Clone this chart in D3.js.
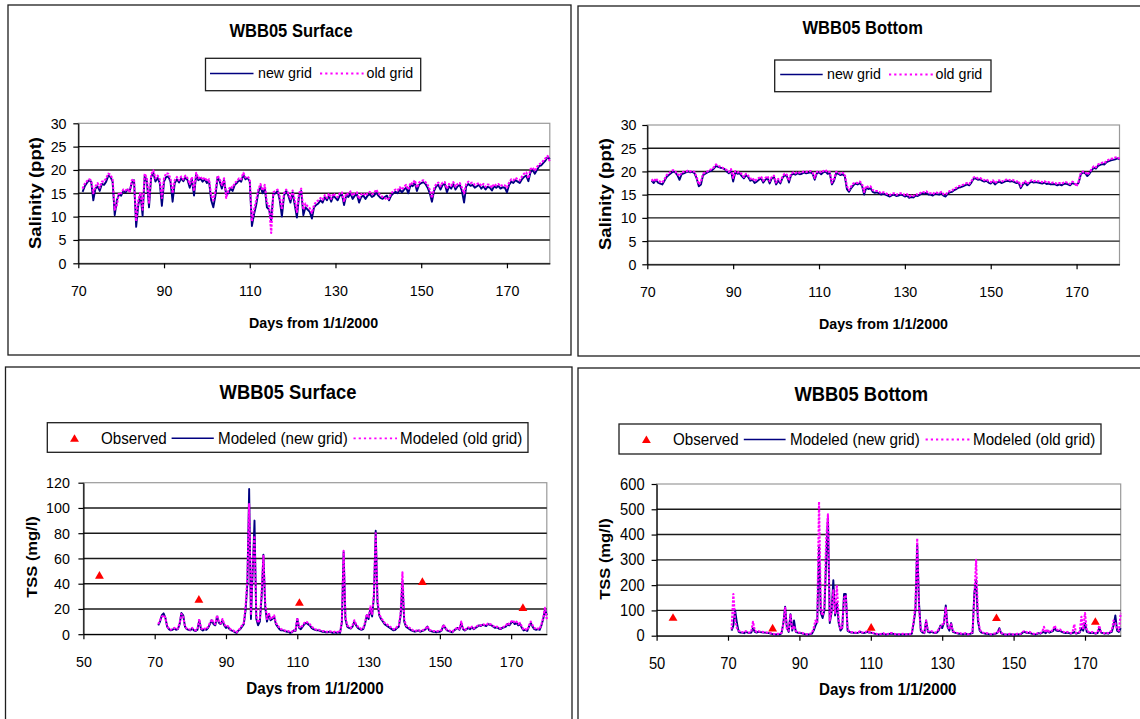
<!DOCTYPE html>
<html>
<head>
<meta charset="utf-8">
<script src="https://cdn.jsdelivr.net/npm/d3@7"></script>
<style>
  html, body { margin: 0; padding: 0; background: #fff; }
  svg { display: block; font-family: "Liberation Sans", Arial, sans-serif; }
</style>
</head>
<body>
<script>
// ---------- data ----------
// Model output is sampled every half day from day 71 to day 180.
const seriesStart = 71;
const seriesStep = 0.5;

// Salinity (ppt), surface layer
const salSurfNew = [
  15.3,16.5,17.2,17.8,17.5,13.5,16.0,16.5,15.5,17.0,
  16.8,17.5,18.8,18.5,17.5,10.3,13.5,14.8,14.5,15.5,
  15.2,15.8,15.5,17.3,17.8,7.8,12.5,14.8,10.2,18.8,
  17.5,12.0,18.5,19.4,17.5,18.3,17.2,12.3,17.5,18.5,
  18.6,17.5,13.2,17.2,18.0,17.3,18.2,17.6,18.4,17.8,
  16.2,18.0,14.5,19.0,17.8,18.2,17.5,18.0,17.2,17.6,
  13.5,12.0,14.5,18.5,17.5,16.0,17.8,14.8,15.0,16.0,
  15.5,16.8,17.2,17.8,17.5,19.0,18.0,18.3,17.5,8.0,
  10.5,12.5,15.2,16.5,15.0,16.2,12.0,11.5,9.2,14.8,
  15.0,15.5,13.5,10.0,14.5,15.5,14.5,13.0,15.2,12.5,
  9.8,14.5,15.5,10.3,12.0,11.5,11.0,9.6,12.0,12.5,
  12.8,13.5,13.0,14.2,13.5,14.5,13.2,14.5,14.0,13.5,
  14.5,14.8,12.5,14.5,14.2,15.0,13.8,14.5,14.8,13.0,
  14.2,14.5,13.8,14.5,14.8,14.2,14.5,15.2,14.5,14.0,
  13.8,14.2,14.5,13.5,14.5,15.0,15.3,15.0,15.8,15.2,
  15.8,16.2,15.0,16.8,16.5,17.3,15.5,16.8,17.2,17.4,
  17.0,16.2,15.0,13.2,15.5,16.5,16.8,15.8,16.8,17.0,
  15.2,16.5,16.0,17.0,15.8,16.5,16.8,15.5,13.0,16.5,
  17.0,16.6,16.8,16.2,16.5,16.8,16.0,16.5,15.8,16.4,
  16.2,15.6,16.5,16.2,16.6,16.0,16.3,16.2,15.2,16.8,
  17.5,17.2,17.8,17.5,17.2,18.0,18.5,18.8,17.6,19.5,
  20.0,19.2,20.0,20.8,21.0,21.5,22.0,22.8,22.3
];
const salSurfOld = [
  16.0,17.0,17.6,18.0,17.8,15.0,16.5,17.2,16.2,17.5,
  17.5,18.2,19.2,19.0,18.0,11.5,12.5,15.2,15.0,15.8,
  15.6,16.0,15.2,17.8,18.0,9.0,13.5,15.2,11.5,19.2,
  18.2,13.0,19.0,19.9,18.2,18.8,18.0,14.0,18.2,19.3,
  19.2,18.2,15.0,17.8,18.5,17.8,18.6,18.0,18.8,18.2,
  17.0,18.5,15.5,19.4,18.2,18.6,17.9,18.4,17.6,18.0,
  14.5,13.5,15.5,18.8,18.0,16.8,18.2,14.0,15.6,16.5,
  16.2,17.2,17.6,18.2,18.0,19.4,18.4,18.6,18.0,9.0,
  11.5,13.5,15.8,17.0,15.6,16.8,13.0,12.5,6.5,15.2,
  15.5,15.8,14.2,11.5,15.0,15.8,15.0,13.8,15.6,13.5,
  11.0,15.0,16.0,11.5,12.8,12.2,11.8,10.8,12.5,13.2,
  13.5,14.0,13.6,14.6,14.0,15.0,13.8,15.0,14.5,14.2,
  15.0,15.2,13.2,15.0,14.8,15.4,14.5,15.0,15.2,13.8,
  14.8,15.0,14.5,15.0,15.3,14.8,15.0,15.8,15.0,14.6,
  14.2,14.0,13.6,14.0,15.0,15.5,15.8,15.6,16.3,15.8,
  16.4,16.8,15.8,17.3,17.0,17.8,16.2,17.3,17.6,17.8,
  17.4,16.8,15.8,14.0,16.0,17.0,17.3,16.5,17.3,17.4,
  16.0,17.0,16.6,17.4,16.4,17.0,17.2,16.2,15.0,17.0,
  17.5,17.2,17.3,16.8,17.0,17.2,16.6,17.0,16.4,16.9,
  16.8,16.2,17.0,16.7,17.0,16.5,16.8,16.7,16.2,17.3,
  18.0,17.8,18.3,18.0,17.8,18.6,19.2,19.5,18.2,20.2,
  20.5,19.8,20.6,21.2,21.5,22.0,22.5,23.0,21.8
];

// Salinity (ppt), bottom layer
const salBotNew = [
  18.0,17.5,18.2,17.6,17.4,17.2,18.0,18.8,19.2,19.6,
  20.0,19.8,19.2,18.2,19.4,19.6,19.8,20.0,19.8,19.9,
  19.6,18.5,16.8,17.2,19.2,19.5,19.8,20.0,20.2,20.6,
  21.2,21.0,20.8,20.7,20.5,20.0,19.6,20.2,17.8,19.8,
  19.5,19.6,19.0,18.5,19.2,18.8,18.0,18.2,17.5,17.8,
  18.2,18.5,17.6,18.2,18.6,17.4,18.5,18.8,17.2,18.0,
  17.4,18.6,19.2,19.0,17.6,19.2,19.5,19.3,19.6,19.4,
  19.5,19.8,19.6,19.7,19.8,19.5,18.2,19.6,19.8,19.4,
  19.8,20.0,19.5,19.6,17.2,18.0,19.6,19.5,19.2,19.4,
  19.0,16.2,15.6,16.4,17.0,17.4,17.2,17.5,17.0,15.0,
  16.5,16.2,16.4,15.6,15.4,15.5,15.3,15.0,15.2,15.0,
  14.8,14.6,14.9,15.0,14.7,14.8,15.0,14.9,14.6,14.8,
  14.3,14.5,14.4,14.8,14.7,15.0,15.3,15.2,15.4,15.0,
  15.0,14.8,15.2,15.1,15.0,15.3,14.8,14.6,15.2,15.5,
  15.6,16.0,16.2,16.5,16.6,16.8,17.0,17.2,17.0,17.6,
  18.4,18.5,18.2,18.3,18.0,17.8,18.0,17.6,17.4,17.8,
  17.2,17.6,17.8,17.5,17.7,17.9,18.0,17.8,17.9,17.7,
  17.5,17.6,16.4,17.2,17.6,17.0,17.5,17.8,17.6,17.7,
  17.6,17.5,17.4,17.6,17.3,17.4,17.2,17.3,17.2,17.0,
  17.2,17.0,17.3,17.4,17.2,17.0,17.5,17.3,17.1,17.6,
  19.4,19.8,19.6,19.0,19.5,20.2,20.8,20.6,21.2,21.4,
  21.6,21.5,22.0,22.2,22.4,22.5,22.6,22.8,22.6
];
const salBotOld = [
  18.3,17.8,18.5,17.9,17.8,17.6,18.3,19.2,19.6,20.0,
  20.3,20.0,19.5,19.0,19.8,19.9,20.0,20.2,20.0,20.1,
  19.9,18.8,17.2,17.8,19.5,19.8,20.0,20.3,20.5,20.9,
  21.5,21.2,21.0,20.8,20.6,20.3,19.9,20.5,18.6,20.1,
  19.8,19.9,19.4,18.8,19.5,19.1,18.4,18.6,17.9,18.3,
  18.6,18.9,18.0,18.6,19.0,17.9,18.8,19.1,17.6,18.4,
  17.8,18.9,19.5,19.3,18.0,19.5,19.8,19.6,19.9,19.7,
  19.8,20.0,19.9,20.0,20.1,19.8,18.6,19.9,20.1,19.7,
  20.1,20.3,19.8,19.9,17.6,18.4,19.9,19.8,19.5,19.7,
  19.4,16.8,16.0,16.8,17.4,17.6,17.5,17.8,17.4,15.6,
  16.9,16.6,16.8,16.0,15.8,15.8,15.6,15.3,15.5,15.3,
  15.1,14.9,15.2,15.3,15.0,15.1,15.3,15.2,14.9,15.1,
  14.6,14.8,14.7,15.1,15.0,15.3,15.6,15.5,15.7,15.3,
  15.3,15.1,15.5,15.4,15.3,15.6,15.1,15.0,15.5,15.8,
  15.9,16.3,16.5,16.8,16.9,17.1,17.3,17.5,17.3,17.9,
  18.7,18.8,18.5,18.6,18.3,18.1,18.3,17.9,17.7,18.1,
  17.5,17.9,18.1,17.8,18.0,18.2,18.3,18.1,18.2,18.0,
  17.8,17.9,16.8,17.5,17.9,17.3,17.8,18.1,17.9,18.0,
  17.9,17.8,17.7,17.9,17.6,17.7,17.5,17.6,17.5,17.3,
  17.5,17.3,17.6,17.7,17.5,17.3,17.8,17.6,16.8,17.9,
  19.7,20.0,19.9,19.3,19.8,20.5,21.1,20.9,21.5,21.7,
  21.9,21.8,22.3,22.5,22.7,22.8,23.0,23.1,22.7
];

// TSS (mg/l), surface layer
const tssSurfNew = [
  7,10,15,16.5,13,6,4,3,3.5,4.5,
  3.5,4,8,16.8,15,6,4,3.5,3,4.5,
  3,2.5,3.5,11,4,3,4,3.5,5,8,
  11,8,7,14,9,8,11,7,5,6,
  4,3,2.5,1.5,1,3,4,6,8,19,
  40,115,12,50,90,12,7,10,30,63,
  22,10,16,11,12,14,8,6,4,3,
  3,2.5,2,2,1,1.5,3,2.5,12,5,
  4,6,8,9,8,7,5,4,3.5,3,
  3,2.5,2,2,1.5,1.5,2,1.5,1,1.5,
  1,1.5,1,9,65,12,6,5,4.5,6,
  10,7,5,4,3.5,4,8,15,12,20,
  14,30,82,25,15,12,10,8,7,6,
  5,4,3,3.5,5,6,15,42,10,6,
  5,4,3,2.5,2,2.5,3,2,2.5,3,
  4,6,3,2.5,2,2,1.5,2,2,3,
  7,5,3,2.5,2,1.5,3,4,5,3.5,
  9,4,3,4,5,4,5.5,4,5,6,
  7,6.5,7.5,7,6.5,8,7.5,7,6,5,
  5.5,4.5,4,5,5.5,6,8,7,9,10,
  8,9,7,8,5,3,3.5,2.5,6,9,
  6,4,3.5,4,3.5,7,12,20,15
];
const tssSurfOld = [
  8,11,14,15,13,6,4.5,3.5,4,5,
  4,4.5,9,16,14,6,4.5,4,3.5,5,
  3.5,3,4,12,5,3.5,4.5,4,6,9,
  12,9,8,15,10,8.5,12,8,6,6.5,
  4.5,3.5,3,2,1.5,3.5,4.5,7,9,22,
  45,103,15,55,78,15,9,12,33,62,
  25,12,17,12,13,15,9,7,5,4,
  3.5,3,2.5,2.5,1.5,2,3.5,3,13,6,
  5,7,9,10,9,8,6,5,4,3.5,
  3.5,3,2.5,2.5,2,2,2.5,2,1.5,2,
  1.5,2,1.5,10,66,14,7,6,5,7,
  11,8,6,5,4,5,9,16,13,22,
  16,32,80,28,16,13,11,9,8,7,
  6,5,4,4,6,7,17,49,12,7,
  6,5,4,3,2.5,3,3.5,2.5,3,3.5,
  4.5,6.5,3.5,3,2.5,2.5,2,2.5,2.5,3.5,
  7.5,5.5,3.5,3,2.5,2,3.5,4.5,5.5,4,
  10,4.5,3.5,4.5,5.5,4.5,6,4.5,5.5,6.5,
  7.5,7,8,7.5,7,8.5,8,7.5,6.5,5.5,
  6,5,4.5,5.5,6,6.5,9,8,10,11,
  9,10,8,9,6,3.5,4,3,7,10,
  7,5,4,4.5,4,8,13,21,12
];

// TSS (mg/l), bottom layer
const tssBotNew = [
  20,40,100,50,15,12,12,10,15,12,
  10,12,30,15,12,15,14,13,12,12,
  10,10,8,6,5,5,6,5,10,50,
  115,30,15,85,20,60,15,12,10,10,
  8,6,5,5,6,8,20,40,55,350,
  90,70,100,300,470,50,90,220,80,130,
  50,20,30,165,165,20,15,12,12,10,
  10,12,15,12,10,12,15,12,12,10,
  8,6,5,5,6,8,5,5,6,8,
  8,6,5,5,5,5,6,5,5,6,
  5,8,50,100,360,130,20,12,10,60,
  15,12,15,12,10,12,20,40,30,50,
  120,35,20,50,15,12,10,8,8,6,
  6,8,5,5,8,10,170,220,60,20,
  12,10,8,8,6,5,5,6,8,12,
  30,10,6,5,4,5,6,5,4,5,
  6,5,6,12,15,12,10,12,8,6,
  5,6,10,8,12,15,10,20,12,15,
  18,30,20,18,20,15,12,10,12,10,
  8,10,15,8,10,12,30,20,50,15,
  12,10,12,10,8,10,30,12,10,8,
  10,8,12,15,40,80,20,15,30
];
const tssBotOld = [
  25,165,60,30,20,15,14,12,18,14,
  12,15,55,20,15,18,16,15,14,14,
  12,12,10,8,6,6,8,6,12,45,
  110,25,20,85,25,40,18,14,12,12,
  10,8,6,6,8,10,30,60,50,530,
  100,80,120,380,480,60,100,180,90,200,
  60,25,35,150,160,25,18,14,14,12,
  12,14,18,14,12,15,18,14,14,12,
  10,8,6,6,8,10,6,6,8,10,
  10,8,6,6,6,6,8,6,6,8,
  6,10,60,120,385,110,25,15,12,60,
  20,15,18,15,12,15,25,35,45,45,
  110,40,25,45,18,15,12,10,10,8,
  8,10,6,6,10,14,150,300,80,25,
  15,12,10,10,8,6,6,8,10,14,
  25,12,8,6,5,6,8,6,5,6,
  8,6,8,15,18,15,12,15,10,8,
  6,8,12,10,15,35,12,25,15,18,
  22,40,25,22,25,18,15,12,15,12,
  10,12,45,10,12,15,75,25,90,20,
  15,12,15,12,10,12,40,15,12,10,
  12,10,15,20,60,50,25,20,90
];

// Observed TSS samples
const obsSurfDays = [54.5, 82.4, 110.6, 145.1, 173.3];
const obsSurfTss  = [46, 27, 24.5, 41, 20.5];
const obsBotDays  = [54.6, 82.5, 110.1, 145.2, 172.9];
const obsBotTss   = [69, 27, 30, 68, 53];

// Axis ticks
const salXTicks = [70, 90, 110, 130, 150, 170];
const salYTicks = [0, 5, 10, 15, 20, 25, 30];
const tssXTicks = [50, 70, 90, 110, 130, 150, 170];
const tssSurfYTicks = [0, 20, 40, 60, 80, 100, 120];
const tssBotYTicks = [0, 100, 200, 300, 400, 500, 600];

// ---------- drawing ----------
const SQ = 0.92;          // narrow text face
const BLUE = "#000080";
const PINK = "#ff00ff";
const RED = "#ff0000";

const svg = d3.select("body").append("svg")
  .attr("width", 1140).attr("height", 719);

function label(g, x, y, str, size, weight, anchor, vertical) {
  return g.append("text")
    .attr("transform", vertical
      ? `translate(${x},${y}) rotate(-90) scale(1,${SQ})`
      : `translate(${x},${y}) scale(${SQ},1)`)
    .attr("text-anchor", anchor || "middle")
    .attr("font-size", size)
    .attr("font-weight", weight || "normal")
    .attr("fill", "#000")
    .text(str);
}

const triangle = d3.symbol().type(d3.symbolTriangle).size(34);

const panels = [
  {
    frame: [8, 5, 563, 350],
    px: [78.3, 549.8], py: [263.3, 123.3],
    xDomain: [70, 180], yDomain: [0, 30],
    xTicks: salXTicks, yTicks: salYTicks, yPad: 7.8, tickFont: 15.5,
    newer: salSurfNew, older: salSurfOld,
    title: ["WBB05 Surface", 291, 36.5, 18],
    xTitle: ["Days from 1/1/2000", 313.6, 327.5, 15.5],
    yTitle: ["Salinity (ppt)", 41, 193, 18.5],
    legend: {
      box: [205.5, 58.3, 215.2, 32.4], lineY: 73.5, textY: 78, font: 15.5,
      items: [
        { kind: "line", x0: 210, x1: 253.5, tx: 258, text: "new grid" },
        { kind: "dots", x0: 320, x1: 363.6, tx: 366.5, text: "old grid" }
      ]
    }
  },
  {
    frame: [578, 6, 600, 350],
    px: [647.3, 1119.5], py: [264.3, 125],
    xDomain: [70, 180], yDomain: [0, 30],
    xTicks: salXTicks, yTicks: salYTicks, yPad: 6.7, tickFont: 15.5,
    newer: salBotNew, older: salBotOld,
    title: ["WBB05 Bottom", 862.7, 34, 18],
    xTitle: ["Days from 1/1/2000", 883.5, 328.5, 15.5],
    yTitle: ["Salinity (ppt)", 610.5, 194, 18.5],
    legend: {
      box: [774.7, 60, 216.3, 31.7], lineY: 74.5, textY: 79, font: 15.5,
      items: [
        { kind: "line", x0: 780.2, x1: 822.7, tx: 827, text: "new grid" },
        { kind: "dots", x0: 889, x1: 933, tx: 935.5, text: "old grid" }
      ]
    }
  },
  {
    frame: [5.5, 367, 566.5, 400],
    px: [83.4, 546.8], py: [634.2, 482.7],
    xDomain: [50, 180], yDomain: [0, 120],
    xTicks: tssXTicks, yTicks: tssSurfYTicks, yPad: 9.7, tickFont: 15.5,
    newer: tssSurfNew, older: tssSurfOld,
    obsDays: obsSurfDays, obsVals: obsSurfTss,
    title: ["WBB05 Surface", 288, 399, 20],
    xTitle: ["Days from 1/1/2000", 315, 694, 16.5],
    yTitle: ["TSS (mg/l)", 37, 557, 16.5],
    legend: {
      box: [47.3, 422.7, 480.7, 29.6], lineY: 438.3, textY: 443.5, font: 16.5,
      items: [
        { kind: "tri", x: 74.5, tx: 101, text: "Observed" },
        { kind: "line", x0: 171.6, x1: 213.8, tx: 218, text: "Modeled (new grid)" },
        { kind: "dots", x0: 353.5, x1: 397, tx: 400, text: "Modeled (old grid)" }
      ]
    }
  },
  {
    frame: [578, 368, 600, 400],
    px: [656.6, 1120.7], py: [635.7, 484],
    xDomain: [50, 180], yDomain: [0, 600],
    xTicks: tssXTicks, yTicks: tssBotYTicks, yPad: 8, tickFont: 16,
    newer: tssBotNew, older: tssBotOld,
    obsDays: obsBotDays, obsVals: obsBotTss,
    title: ["WBB05 Bottom", 861.3, 400.5, 20],
    xTitle: ["Days from 1/1/2000", 887.8, 695, 16.5],
    yTitle: ["TSS (mg/l)", 609.8, 559, 16.5],
    legend: {
      box: [619, 424, 482, 30], lineY: 439.5, textY: 445, font: 16.5,
      items: [
        { kind: "tri", x: 646.4, tx: 672.9, text: "Observed" },
        { kind: "line", x0: 743.8, x1: 785.6, tx: 790, text: "Modeled (new grid)" },
        { kind: "dots", x0: 925.6, x1: 970, tx: 973, text: "Modeled (old grid)" }
      ]
    }
  }
];

function drawPanel(p) {
  const g = svg.append("g");

  // outer chart frame
  g.append("rect")
    .attr("x", p.frame[0]).attr("y", p.frame[1])
    .attr("width", p.frame[2]).attr("height", p.frame[3])
    .attr("fill", "none").attr("stroke", "#1e1e1e").attr("stroke-width", 1.3);

  const x = d3.scaleLinear().domain(p.xDomain).range(p.px);
  const y = d3.scaleLinear().domain(p.yDomain).range(p.py);

  // plot area border
  g.append("rect")
    .attr("x", p.px[0]).attr("y", p.py[1])
    .attr("width", p.px[1] - p.px[0]).attr("height", p.py[0] - p.py[1])
    .attr("fill", "#fff").attr("stroke", "#9a9a9a").attr("stroke-width", 1.2);

  // horizontal gridlines
  g.append("g").selectAll("line")
    .data(p.yTicks.filter(v => v > p.yDomain[0] && v < p.yDomain[1]))
    .join("line")
    .attr("x1", p.px[0]).attr("x2", p.px[1])
    .attr("y1", d => y(d)).attr("y2", d => y(d))
    .attr("stroke", "#1a1a1a").attr("stroke-width", 1.4);

  // axes
  const xAxis = g.append("g")
    .attr("transform", `translate(0,${p.py[0]})`)
    .call(d3.axisBottom(x).tickValues(p.xTicks).tickSize(5).tickSizeOuter(0).tickPadding(16.6));
  const yAxis = g.append("g")
    .attr("transform", `translate(${p.px[0]},0)`)
    .call(d3.axisLeft(y).tickValues(p.yTicks).tickSize(5).tickSizeOuter(0).tickPadding(p.yPad));
  [xAxis, yAxis].forEach(a => {
    a.select(".domain").attr("stroke", "#000").attr("stroke-width", 1.2);
    a.selectAll(".tick line").attr("stroke", "#000").attr("stroke-width", 1.2);
    a.selectAll(".tick text")
      .attr("fill", "#000")
      .attr("font-size", p.tickFont)
      .attr("font-family", "'Liberation Sans', Arial, sans-serif")
      .attr("transform", `scale(${SQ},1)`);
  });

  // modeled series
  const line = d3.line()
    .x((v, i) => x(seriesStart + i * seriesStep))
    .y(v => y(v));
  g.append("path").attr("d", line(p.newer))
    .attr("fill", "none").attr("stroke", BLUE).attr("stroke-width", 1.9)
    .attr("stroke-linejoin", "round");
  g.append("path").attr("d", line(p.older))
    .attr("fill", "none").attr("stroke", PINK).attr("stroke-width", 2.1)
    .attr("stroke-dasharray", "2.4,1.4").attr("stroke-linejoin", "round");

  // observations
  if (p.obsDays) {
    g.append("g").selectAll("path")
      .data(p.obsDays.map((d, i) => [d, p.obsVals[i]]))
      .join("path")
      .attr("d", triangle)
      .attr("transform", d => `translate(${x(d[0])},${y(d[1])})`)
      .attr("fill", RED);
  }

  // titles
  label(g, p.title[1], p.title[2], p.title[0], p.title[3], "bold");
  label(g, p.xTitle[1], p.xTitle[2], p.xTitle[0], p.xTitle[3], "bold");
  label(g, p.yTitle[1], p.yTitle[2], p.yTitle[0], p.yTitle[3], "bold", "middle", true);

  // legend
  const L = p.legend;
  const lg = g.append("g");
  lg.append("rect")
    .attr("x", L.box[0]).attr("y", L.box[1]).attr("width", L.box[2]).attr("height", L.box[3])
    .attr("fill", "#fff").attr("stroke", "#1e1e1e").attr("stroke-width", 1.3);
  L.items.forEach(it => {
    if (it.kind === "tri") {
      lg.append("path").attr("d", triangle)
        .attr("transform", `translate(${it.x},${L.lineY + 1})`).attr("fill", RED);
    } else {
      lg.append("line")
        .attr("x1", it.x0).attr("x2", it.x1).attr("y1", L.lineY).attr("y2", L.lineY)
        .attr("stroke", it.kind === "line" ? BLUE : PINK)
        .attr("stroke-width", it.kind === "line" ? 1.6 : 1.8)
        .attr("stroke-dasharray", it.kind === "line" ? null : "2.2,3");
    }
    label(lg, it.tx, L.textY, it.text, L.font, "normal", "start");
  });
}

panels.forEach(drawPanel);
</script>
</body>
</html>
